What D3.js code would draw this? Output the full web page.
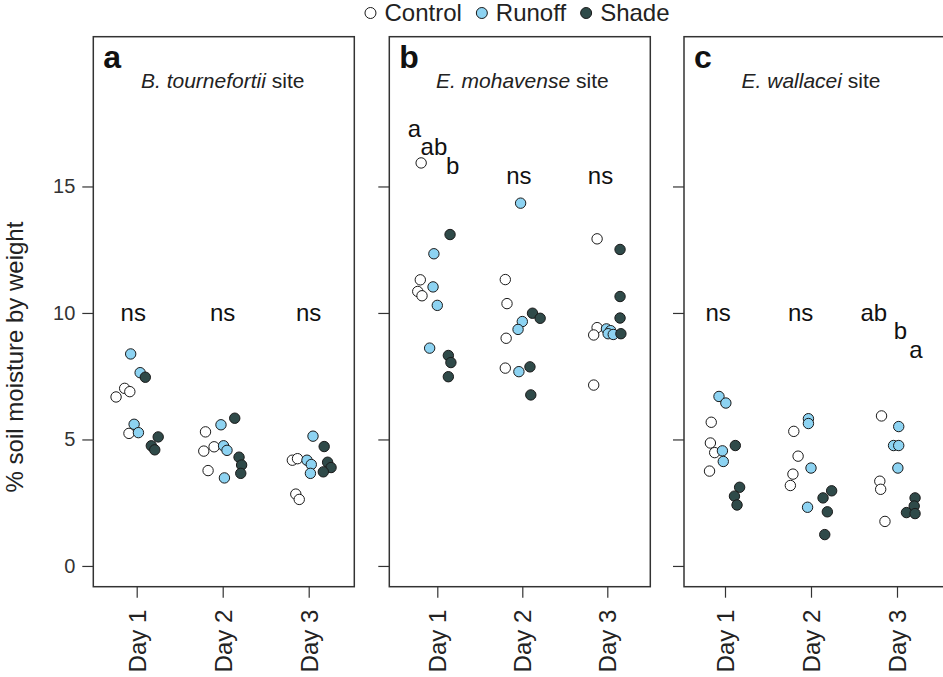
<!DOCTYPE html>
<html>
<head>
<meta charset="utf-8">
<script src="https://cdn.jsdelivr.net/npm/d3@7"></script>
<style>
    body { margin: 0; background: #fff; }
    svg { display: block; font-family: "Liberation Sans", Arial, sans-serif; }
</style>
</head>
<body>
<svg id="chart"></svg>
<script>
// values: [jittered day position, % soil moisture]
const days = ["Day 1", "Day 2", "Day 3"];
const treatments = ["Control", "Runoff", "Shade"];
const panelLetters = ["a", "b", "c"];
const siteSpecies = ["B. tournefortii", "E. mohavense", "E. wallacei"];
const yTicks = [0, 5, 10, 15];

const tournefortiiControl = [[0.76, 6.68], [0.86, 7.02], [0.92, 6.89], [0.91, 5.24], [1.80, 5.30], [1.78, 4.54], [1.90, 4.71], [1.83, 3.77], [2.81, 4.18], [2.87, 4.24], [2.85, 2.84], [2.89, 2.63]];
const tournefortiiRunoff = [[0.93, 8.38], [1.04, 7.64], [0.97, 5.60], [1.02, 5.27], [1.98, 5.58], [2.01, 4.75], [2.05, 4.57], [2.02, 3.48], [3.05, 5.13], [2.98, 4.18], [3.03, 4.01], [3.02, 3.66]];
const tournefortiiShade = [[1.10, 7.46], [1.25, 5.10], [1.17, 4.75], [1.21, 4.59], [2.14, 5.84], [2.19, 4.30], [2.22, 3.99], [2.21, 3.66], [3.18, 4.72], [3.22, 4.10], [3.26, 3.89], [3.17, 3.72]];

const mohavenseControl = [[0.81, 15.93], [0.80, 11.31], [0.77, 10.85], [0.82, 10.68], [1.80, 11.32], [1.82, 10.37], [1.81, 9.00], [1.80, 7.82], [2.88, 12.93], [2.88, 9.42], [2.84, 9.13], [2.84, 7.15]];
const mohavenseRunoff = [[0.96, 12.34], [0.95, 11.03], [1.00, 10.30], [0.91, 8.61], [1.98, 14.34], [2.00, 9.66], [1.95, 9.35], [1.96, 7.68], [2.99, 9.37], [3.04, 9.30], [3.01, 9.18], [3.07, 9.15]];
const mohavenseShade = [[1.15, 13.10], [1.13, 8.32], [1.16, 8.04], [1.13, 7.48], [2.12, 9.99], [2.21, 9.79], [2.09, 7.87], [2.10, 6.76], [3.15, 12.51], [3.15, 10.65], [3.15, 9.80], [3.16, 9.18]];

const wallaceiControl = [[0.84, 5.68], [0.83, 4.86], [0.88, 4.48], [0.82, 3.75], [1.80, 5.32], [1.85, 4.34], [1.79, 3.63], [1.76, 3.18], [2.82, 5.93], [2.80, 3.35], [2.81, 3.03], [2.86, 1.76]];
const wallaceiRunoff = [[0.93, 6.70], [1.01, 6.44], [0.97, 4.55], [0.98, 4.13], [1.97, 5.82], [1.97, 5.63], [2.00, 3.87], [1.96, 2.32], [3.02, 5.51], [2.96, 4.76], [3.02, 4.76], [3.01, 3.87]];
const wallaceiShade = [[1.12, 4.76], [1.17, 3.11], [1.11, 2.76], [1.14, 2.41], [2.24, 2.97], [2.14, 2.69], [2.19, 2.14], [2.16, 1.24], [3.21, 2.69], [3.20, 2.37], [3.11, 2.11], [3.21, 2.07]];

// significance letters: [x position, y position, label]
const tournefortiiLetters = [[0.96, 10, "ns"], [2.0, 10, "ns"], [3.0, 10, "ns"]];
const mohavenseLetters = [[0.73, 17.3, "a"], [0.96, 16.59, "ab"], [1.18, 15.82, "b"], [1.96, 15.44, "ns"], [2.92, 15.44, "ns"]];
const wallaceiLetters = [[0.92, 10, "ns"], [1.88, 10, "ns"], [2.73, 10, "ab"], [3.04, 9.3, "b"], [3.22, 8.54, "a"]];

const panelPoints = [
    [tournefortiiControl, tournefortiiRunoff, tournefortiiShade],
    [mohavenseControl, mohavenseRunoff, mohavenseShade],
    [wallaceiControl, wallaceiRunoff, wallaceiShade]
];
const panelLabels = [tournefortiiLetters, mohavenseLetters, wallaceiLetters];

const treatmentColors = ["#ffffff", "#8dd3f2", "#2f4a49"];

const width = 943;
const height = 677;
const frameTop = 36.7;
const frameBottom = 586.7;
const frameWidth = 261;
const panelLeft = [93.3, 389.3, 684];
const panelTickRange = [[136.7, 308.7], [437.3, 607.3], [725, 897]];
const pointRadius = 5.2;

const svg = d3.select("#chart")
    .attr("width", width)
    .attr("height", height);

const y = d3.scaleLinear()
    .domain([-0.82, 20.92])
    .range([frameBottom, frameTop]);

panelLetters.forEach((letter, p) => {
    drawPanel(p);
});

drawLegend();

svg.append("text")
    .attr("transform", "translate(23, 357) rotate(-90)")
    .attr("text-anchor", "middle")
    .style("font-size", "24px")
    .attr("fill", "#222")
    .text("% soil moisture by weight");

function drawPanel(p) {
    const left = panelLeft[p];
    const x = d3.scaleLinear()
        .domain([1, 3])
        .range(panelTickRange[p]);

    const g = svg.append("g");

    // y axis, labels only on the first panel
    const yAxis = d3.axisLeft(y)
        .tickValues(yTicks)
        .tickSize(11)
        .tickSizeOuter(0)
        .tickPadding(7)
        .tickFormat(p === 0 ? d3.format("d") : "");

    const yg = g.append("g")
        .attr("transform", `translate(${left}, 0)`)
        .call(yAxis);
    yg.select(".domain").remove();
    yg.selectAll("line").attr("stroke", "#333").attr("stroke-width", 1.2);
    yg.selectAll("text")
        .style("font-size", "20px")
        .style("font-family", "Liberation Sans, Arial, sans-serif")
        .attr("fill", "#333");

    // x axis with rotated day labels
    const xAxis = d3.axisBottom(x)
        .tickValues([1, 2, 3])
        .tickSize(11)
        .tickSizeOuter(0)
        .tickFormat((d, i) => days[i]);

    const xg = g.append("g")
        .attr("transform", `translate(0, ${frameBottom})`)
        .call(xAxis);
    xg.select(".domain").remove();
    xg.selectAll("line").attr("stroke", "#333").attr("stroke-width", 1.2);
    xg.selectAll("text")
        .attr("transform", "rotate(-90)")
        .attr("x", -23)
        .attr("y", 0)
        .attr("dy", "0.35em")
        .attr("text-anchor", "end")
        .style("font-size", "24px")
        .style("font-family", "Liberation Sans, Arial, sans-serif")
        .attr("fill", "#222");

    // frame
    g.append("rect")
        .attr("x", left)
        .attr("y", frameTop)
        .attr("width", frameWidth)
        .attr("height", frameBottom - frameTop)
        .attr("fill", "none")
        .attr("stroke", "#333")
        .attr("stroke-width", 1.5);

    g.append("text")
        .attr("x", left + 10)
        .attr("y", 68)
        .style("font-size", "32px")
        .style("font-weight", "bold")
        .attr("fill", "#111")
        .text(panelLetters[p]);

    const site = g.append("text")
        .attr("x", x(2))
        .attr("y", 88)
        .attr("text-anchor", "middle")
        .style("font-size", "21px")
        .attr("fill", "#222");
    site.append("tspan").style("font-style", "italic").text(siteSpecies[p]);
    site.append("tspan").text(" site");

    g.selectAll(".sig")
        .data(panelLabels[p])
        .enter()
        .append("text")
        .attr("class", "sig")
        .attr("x", d => x(d[0]))
        .attr("y", d => y(d[1]))
        .attr("dy", "0.35em")
        .attr("text-anchor", "middle")
        .style("font-size", "24px")
        .attr("fill", "#111")
        .text(d => d[2]);

    panelPoints[p].forEach((series, t) => {
        g.selectAll(`.pt-${t}`)
            .data(series)
            .enter()
            .append("circle")
            .attr("class", `pt-${t}`)
            .attr("cx", d => x(d[0]))
            .attr("cy", d => y(d[1]))
            .attr("r", pointRadius)
            .attr("fill", treatmentColors[t])
            .attr("stroke", "#1a1a1a")
            .attr("stroke-width", 1);
    });
}

function drawLegend() {
    const legend = svg.append("g");
    let cursor = 0;

    treatments.forEach((name, t) => {
        legend.append("circle")
            .attr("cx", cursor + 6)
            .attr("cy", 0)
            .attr("r", 5.5)
            .attr("fill", treatmentColors[t])
            .attr("stroke", "#1a1a1a")
            .attr("stroke-width", 1);

        const label = legend.append("text")
            .attr("x", cursor + 20)
            .attr("y", 0)
            .attr("dy", "0.35em")
            .style("font-size", "24px")
            .attr("fill", "#222")
            .text(name);

        cursor += 20 + label.node().getComputedTextLength() + 14;
    });

    const total = cursor - 14;
    legend.attr("transform", `translate(${517 - total / 2}, 13)`);
}
</script>
</body>
</html>
